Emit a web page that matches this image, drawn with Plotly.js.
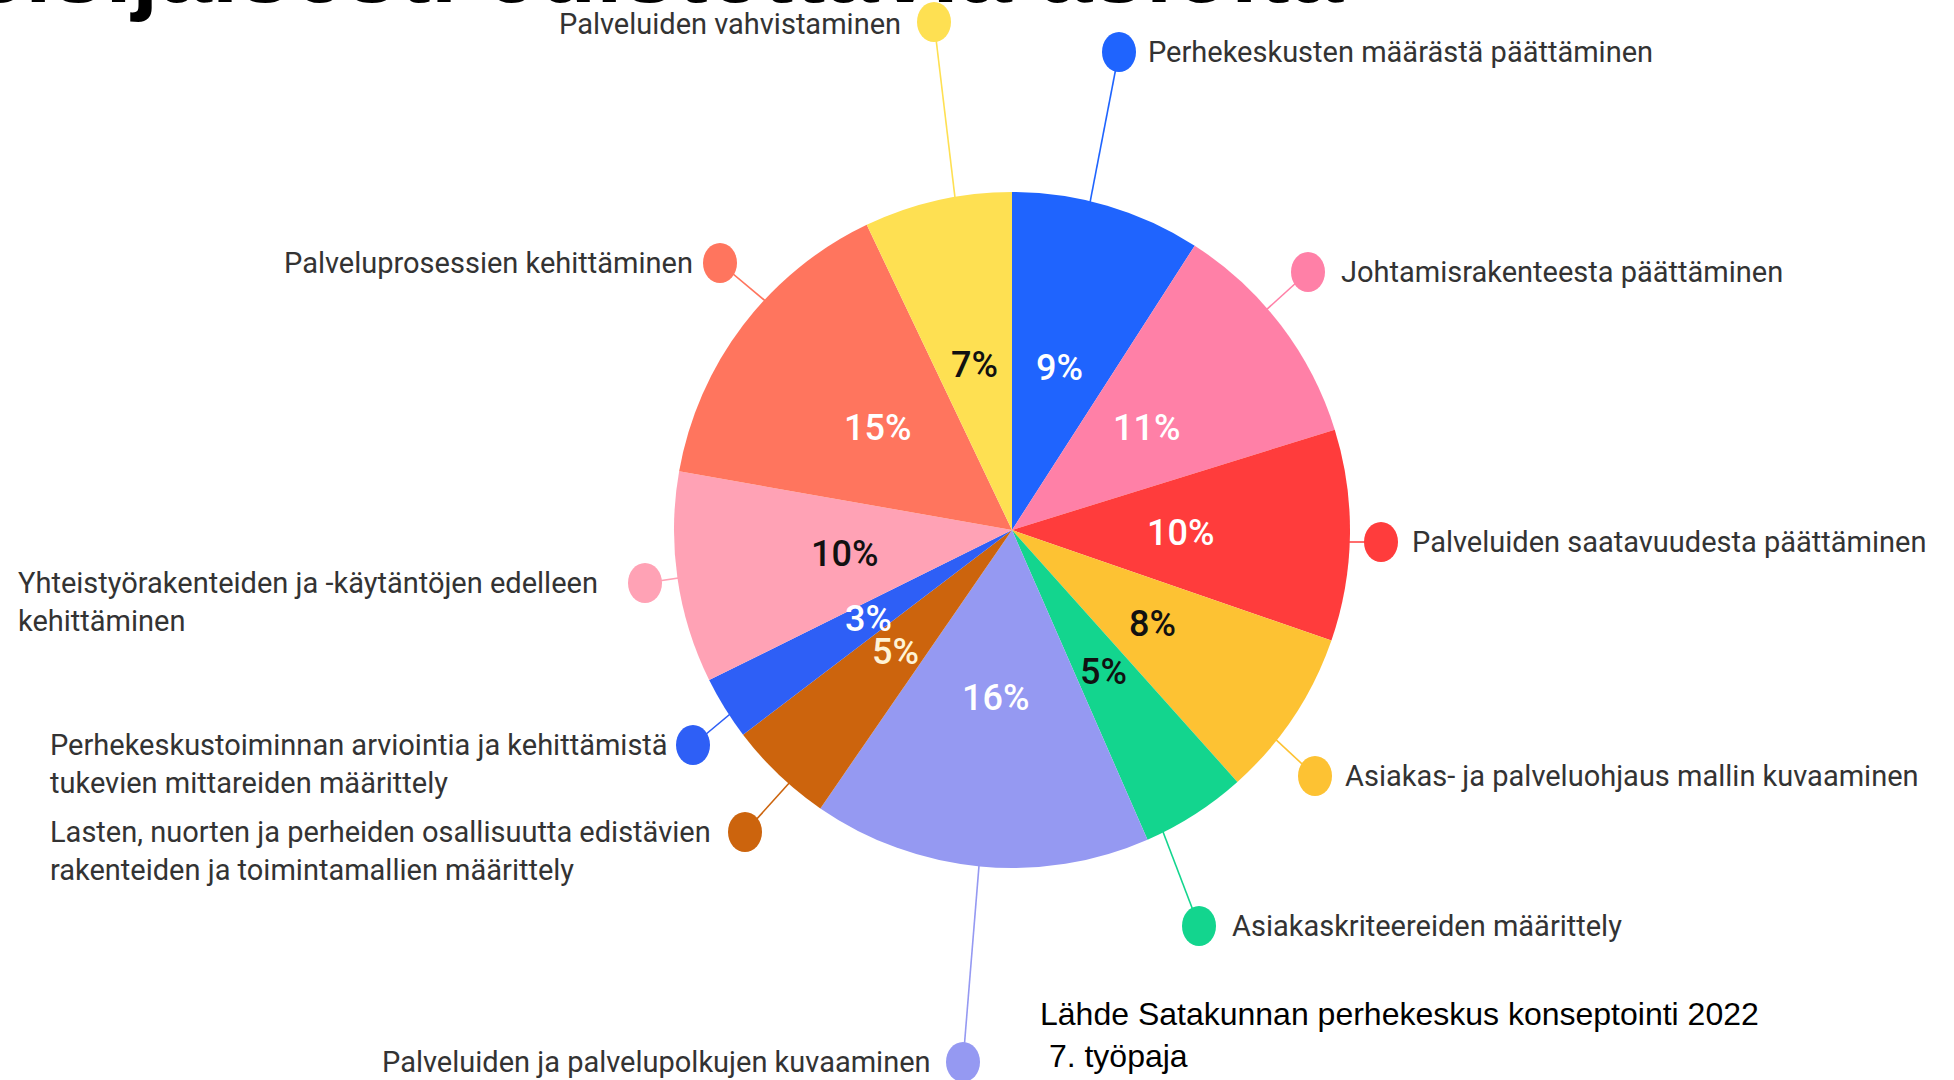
<!DOCTYPE html>
<html>
<head>
<meta charset="utf-8">
<script src="https://cdn.plot.ly/plotly-3.0.1.min.js"></script>
<style>
  html, body { margin: 0; padding: 0; background: #ffffff; }
  #chart { width: 1954px; height: 1080px; }
</style>
</head>
<body>
<div id="chart"></div>
<script>
// ---------- DATA ----------
const categories = [
  "Perhekeskusten määrästä päättäminen",
  "Johtamisrakenteesta päättäminen",
  "Palveluiden saatavuudesta päättäminen",
  "Asiakas- ja palveluohjaus mallin kuvaaminen",
  "Asiakaskriteereiden määrittely",
  "Palveluiden ja palvelupolkujen kuvaaminen",
  "Lasten, nuorten ja perheiden osallisuutta edistävien<br>rakenteiden ja toimintamallien määrittely",
  "Perhekeskustoiminnan arviointia ja kehittämistä<br>tukevien mittareiden määrittely",
  "Yhteistyörakenteiden ja -käytäntöjen edelleen<br>kehittäminen",
  "Palveluprosessien kehittäminen",
  "Palveluiden vahvistaminen"
];
const shares = [9, 11, 10, 8, 5, 16, 5, 3, 10, 15, 7];   // percent
const titleText = "Ensisijaisesti edistettäviä asioita";
const sourceText = "Lähde Satakunnan perhekeskus konseptointi 2022<br> 7. työpaja";

// ---------- STYLE ----------
const sliceColors = ["#1f64fe", "#ff80a7", "#ff3c3c", "#fdc233", "#13d58e", "#9599f2",
                     "#cc640d", "#2e5ff6", "#ffa2b5", "#ff755e", "#fee052"];
const pctColors   = ["#ffffff", "#ffffff", "#ffffff", "#111111", "#111111", "#ffffff",
                     "#fff3d6", "#ffffff", "#111111", "#ffffff", "#111111"];

const W = 1954, H = 1080;
const px = x => x / W;
const py = y => 1 - y / H;

// pie geometry (pixels)
const cx = 1012, cy = 530, R = 338;
const pctRadius = 0.5;   // percent labels sit at half the radius

// label layout: dot centre, anchor side, text anchor x, text centre y, leader end on pie edge
const labelLayout = [
  {dot:[1119, 52],  side:"left",  tx:1146, ty:52,  edge:[1093,187]},
  {dot:[1308, 272], side:"left",  tx:1339, ty:272, edge:[1265,311]},
  {dot:[1381, 542], side:"left",  tx:1410, ty:542, edge:[1333,542]},
  {dot:[1315, 776], side:"left",  tx:1343, ty:776, edge:[1271,735]},
  {dot:[1199, 926], side:"left",  tx:1230, ty:926, edge:[1165,837]},
  {dot:[963, 1062], side:"right", tx:933,  ty:1062, edge:[978,878]},
  {dot:[745, 832],  side:"block", tx:48,   ty:851, edge:[791,781]},
  {dot:[693, 745],  side:"block", tx:48,   ty:764, edge:[735,710]},
  {dot:[645, 583],  side:"block", tx:16,   ty:602, edge:[692,576]},
  {dot:[720, 263],  side:"right", tx:695,  ty:263, edge:[763,299]},
  {dot:[934, 22],   side:"right", tx:903,  ty:24,  edge:[953,181]}
];

const labelFont = {family: "Roboto, 'Noto Sans', sans-serif", size: 29, color: "#333333"};
const pctFont = {family: "Roboto, 'Noto Sans', sans-serif", size: 36, weight: 500};

const shapes = [];
const annotations = [];

labelLayout.forEach((L, i) => {
  const dx = L.edge[0] - L.dot[0], dy = L.edge[1] - L.dot[1];
  const len = Math.hypot(dx, dy);
  const ex = L.edge[0] + dx / len * 45, ey = L.edge[1] + dy / len * 45;
  shapes.push({
    type: "line", xref: "paper", yref: "paper", layer: "below",
    x0: px(L.dot[0]), y0: py(L.dot[1]), x1: px(ex), y1: py(ey),
    line: {color: sliceColors[i], width: 1.6}
  });
  const rw = 17, rh = 20;
  shapes.push({
    type: "circle", xref: "paper", yref: "paper", layer: "above",
    x0: px(L.dot[0] - rw), x1: px(L.dot[0] + rw),
    y0: py(L.dot[1] + rh), y1: py(L.dot[1] - rh),
    fillcolor: sliceColors[i], line: {width: 0}
  });
  annotations.push({
    xref: "paper", yref: "paper", showarrow: false,
    x: px(L.tx), y: py(L.ty),
    xanchor: L.side === "right" ? "right" : "left",
    yanchor: "middle", align: "left",
    text: categories[i], font: labelFont
  });
});

// percent labels placed at the middle angle of each slice, half-way out
const total = shares.reduce((a, b) => a + b, 0);
let cum = 0;
shares.forEach((v, i) => {
  const mid = (cum + v / 2) / total * 2 * Math.PI;
  cum += v;
  const x = cx + pctRadius * R * Math.sin(mid);
  const y = cy - pctRadius * R * Math.cos(mid);
  annotations.push({
    xref: "paper", yref: "paper", showarrow: false,
    x: px(x), y: py(y), xanchor: "center", yanchor: "middle",
    text: v + "%",
    font: Object.assign({color: pctColors[i]}, pctFont)
  });
});

// title (runs off the top of the page, as in the reference)
annotations.push({
  xref: "paper", yref: "paper", showarrow: false,
  x: px(1346), y: py(24), xanchor: "right", yanchor: "bottom",
  text: "<b>" + titleText + "</b>",
  font: {family: "'Liberation Sans', Arial, sans-serif", size: 96, color: "#000000"}
});

// source
annotations.push({
  xref: "paper", yref: "paper", showarrow: false,
  x: px(1038), y: py(1035), xanchor: "left", yanchor: "middle", align: "left",
  text: sourceText,
  font: {family: "'Liberation Sans', Arial, sans-serif", size: 32, color: "#000000"}
});

const trace = {
  type: "pie",
  labels: categories,
  values: shares,
  sort: false,
  direction: "clockwise",
  rotation: 0,
  marker: {colors: sliceColors, line: {width: 0}},
  textinfo: "none",
  textposition: "none",
  hoverinfo: "label+value",
  domain: {x: [px(cx - R), px(cx + R)], y: [py(cy + R), py(cy - R)]}
};

const layout = {
  width: W, height: H, autosize: false,
  margin: {l: 0, r: 0, t: 0, b: 0, pad: 0},
  paper_bgcolor: "#ffffff", plot_bgcolor: "#ffffff",
  showlegend: false,
  shapes: shapes,
  annotations: annotations
};

Plotly.newPlot("chart", [trace], layout, {displayModeBar: false, staticPlot: true});
</script>
</body>
</html>
